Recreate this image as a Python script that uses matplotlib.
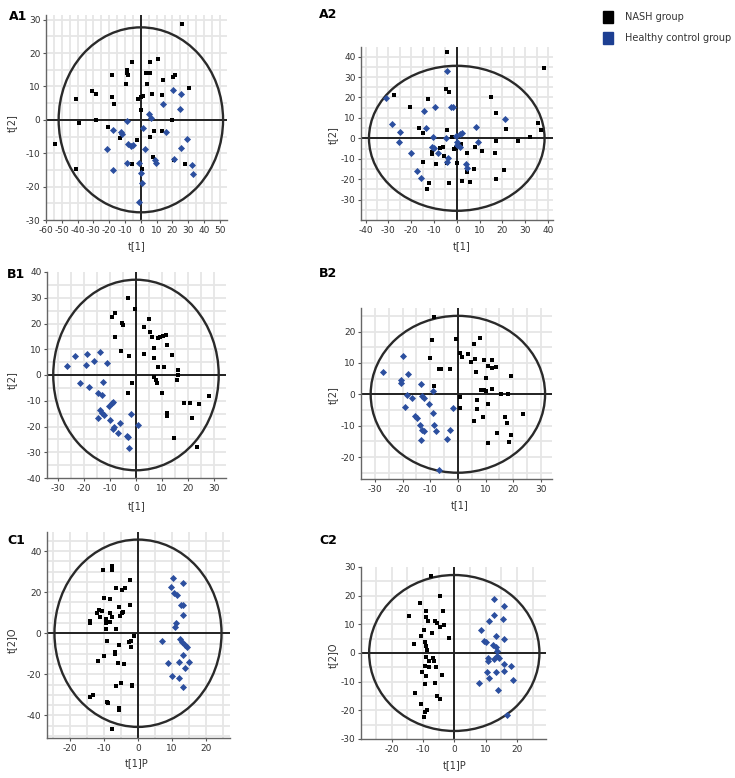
"""Score plots (PCA / PLS-DA / OPLS-DA) for NASH vs healthy control, six panels."""
import matplotlib
matplotlib.use("Agg")
import matplotlib.pyplot as plt
from matplotlib.patches import Ellipse, Rectangle

plt.rcParams['font.family'] = ['DejaVu Sans']
plt.rcParams['axes.unicode_minus'] = False

W, H, DPI = 735, 778, 100

NASH_COLOR = 'black'
HC_COLOR = '#2c4f9f'

# ---- data ----
a1_nash_x = [26.2, -54.1, -41.1, -41, -39, -31, -28.3, -28.5, -20.5, -18.4, -18.4, -17, -13.2, -9, -9,
             -9.6, -5.9, -8.4, -2.7, -1.7, 0, 1.3, 0.4, -5.9, 1, 3.6, 3.1, 5.7, 5.5, 5.5, 7.1, 8.4,
             10.9, 13.8, 13.4, 13.2, 7.8, 20.3, 21.4, 19.7, 21, 27.7, 30.4]
a1_nash_y = [28.6, -7.2, -14.8, 6.3, -0.9, 8.6, 7.8, 0, -2, 13.4, 6.8, 4.8, -5.4, 15, 14,
             10.8, 17.2, 13.4, -6, 6.2, 6.8, 7.1, 3, -13.3, -14.8, 10.8, 14, 14, 17.2, -5.2, 7.8, -3.4,
             18.2, 11.8, 7.3, -3.4, -11.2, 12.9, 13.4, 0, -12, -13.3, 9.6]
a1_hc_x = [-9, -21.6, -17.4, -12.6, -11.7, -17.4, -8.4, -6.3, -4.8, -9, 0.4, 0.8, -1.3, 1.5, 2.9,
           5.2, 6.7, 14, 8.8, 9.9, 16.1, 20.3, 21, 25.6, 24.9, 25.6, 29.1, 32.5, 32.9, -1]
a1_hc_y = [-0.2, -8.7, -3, -3.7, -4.2, -15, -7.2, -7.7, -7.4, -12.8, -16, -19, -24.5, -2.4, -8.7,
           1.6, 0.6, 4.6, -12, -13, -3.7, 9, -11.7, 7.6, 3.3, -8.5, -5.8, -13.5, -16.3, -13]

a2_nash_x = [-4.1, 38.1, -4.7, -3.4, -27.5, -12.7, -20.5, 15.1, 17.3, -16.4, -15, -4.4, -2.2, -0.3,
             -1, -7.3, -10.7, -10.7, -5.6, -4.4, -15, -9.1, 0.3, 1.9, 4.4, 4.4, 7.6, 7.8, 11.1, 16.6,
             17, 21.5, 20.5, 17.1, 26.8, 31.9, 35.6, 36.9, -3.2, 2.3, 5.9, -12, -13.2, -5.9]
a2_nash_y = [42.3, 34.6, 23.9, 22.6, 21.1, 19.2, 15.1, 20.2, 12.5, 4.9, 2.4, 4.1, 0.8, -4.9,
             -5.2, -4.6, -6.5, -7.6, -8.9, -12.2, -11.7, -12.5, -12.2, -2.8, -7.3, -16.7, -15.1, -4.1,
             -6.3, -7.3, -1.1, 4.4, -15.4, -19.8, -1.3, 0.8, 7.6, 4.1, -22, -20.7, -21.3, -22, -24.7, -4.1]
a2_hc_x = [-4.4, -31.2, -28.6, -24.9, -25.2, -14.2, -9.5, -2.6, -1.5, -13.6, -10.3, -11, -10, -8.1,
           -20.1, -17.6, -15.7, -3.7, -4.4, -4.7, -0.3, 1.2, 2.2, 0.3, 1.2, 4.1, 4.4, 8.5, 9.5, 21, 0.3]
a2_hc_y = [33, 19.8, 7, 2.9, -1.6, 13.3, 15.4, 15.4, 15.4, 4.9, 0.5, -4.1, -4.9, -7,
           -7, -15.9, -19.5, -9.8, -11.7, 0, 1.1, 2, 2.8, -1.6, -4.1, -12.7, -14.3, 5.7, -1.6, 9.3, -3.3]

b1_nash_x = [-3.1, -0.3, -9.2, -7.9, -7.9, -5.4, -5.1, -5.6, -2.8, -1.5, -3.1, 2.9, 3.2, 5.1, 5.2,
             6.1, 6.8, 6.8, 8.3, 9.3, 10.2, 11.5, 11.9, 8.4, 10.6, 6.8, 7.8, 8, 14, 16.3, 16.3, 15.7,
             10, 11.9, 11.9, 18.6, 20.8, 24.4, 28.1, 21.7, 14.7, 23.4]
b1_nash_y = [29.8, 25.6, 22.4, 23.9, 14.6, 20.1, 19.4, 9.4, 7.4, -3, -6.9, 8.2, 18.8, 21.6, 16.8,
             14.9, 10.4, 6.5, 14.2, 14.9, 15.1, 15.5, 11.7, 3.2, 3.2, -0.6, -1.9, -3, 7.8, 1.9, 0, -1.9,
             -6.9, -14.9, -15.9, -11, -11, -11.3, -8, -16.6, -24.6, -27.8]
b1_hc_x = [-26.4, -23.6, -19, -19.2, -16, -13.7, -11.1, -21.7, -18.1, -12.6, -14.6, -13, -13.9, -13,
           -12.4, -14.6, -10.5, -9.2, -8.9, -9.8, -8.6, -8.8, -6, -6.9, -3.4, -3.1, -2.8, -1.8, 0.6]
b1_hc_y = [3.5, 7.4, 8, 3.9, 5.6, 9.1, 4.5, -3, -4.5, -2.6, -7.1, -7.8, -13.6, -14.6,
           -15.5, -16.6, -12, -11, -10.4, -17.5, -20.1, -21.1, -18.8, -22.7, -23.6, -24.2, -28.5, -15.3, -19.4]

b2_nash_x = [-8.8, -9.3, -0.6, 8, 5.8, -9.9, -6.8, -6.2, -2.7, -8.6, 0.6, 1.5, 3.7, 4.6, 6.2, 9.3,
             12.2, 11, 13.8, 12.3, 6.7, 10.2, 19.1, 8.3, 9.5, 10.1, 12.2, 15.4, 18.1, 0.6, 0.6, 6.8,
             7, 11, 5.8, 8.9, 17.2, 17.9, 23.5, 14.2, 19.1, 18.3, 11]
b2_nash_y = [24.5, 17.4, 17.7, 18, 15.9, 11.5, 7.9, 8.2, 8.2, 2.5, 13.2, 11.9, 12.8, 10.2, 11.3, 10.8,
             11, 8.9, 8.7, 8.4, 7.1, 5.2, 5.9, 1.3, 1.3, 1, 1.7, 0.2, 0.2, -0.8, -4.4, -1.9,
             -4.7, -3.1, -8.4, -7.3, -7.3, -9.1, -6.3, -12.2, -13.1, -15.2, -15.5]
b2_hc_x = [-26.9, -19.9, -17.9, -20.7, -20.4, -13.3, -18.3, -16.4, -13.1, -12.3, -10.6, -9, -19.1,
           -15.6, -14.9, -13.7, -12.8, -12.3, -13.5, -9, -8.6, -7.8, -2.8, -3.8, -1.6, -6.9]
b2_hc_y = [7, 12.1, 6.6, 4.4, 3.6, 3.4, -0.1, -1.2, -0.4, -1.2, -3, 1.2, -4.1,
           -6.8, -7.5, -9.9, -11.3, -11.8, -14.6, -5.9, -9.7, -11.6, -11.3, -14.2, -4.4, -24.2]

c1_nash_x = [-10.3, -7.8, -7.8, -2.5, -6.4, -4.7, -3.9, -8.1, -10.1, -11.6, -10.6, -12.1, -11.1, -14,
             -14, -9.3, -8.1, -7.8, -8.1, -5.7, -5.4, -4.7, -4.4, -2.5, -9.3, -9.5, -6.5, -9.1, -1.3,
             -2, -2.7, -2, -6.7, -6.7, -5.7, -9.9, -11.8, -5.9, -4, -6.4, -5, -1.8, -1.8, -13.2, -14,
             -9.1, -5.7, -5.7, -7.6, -8.9]
c1_nash_y = [30.7, 32.6, 31, 25.8, 21.8, 21, 21.8, 16.5, 17.4, 11.3, 10.8, 9.7, 8.1, 6.1,
             5.2, 6.8, 9.7, 8.1, 5.7, 12.9, 8.4, 9.7, 10.5, 13.7, 5.2, 1.9, 1.9, -4, -1.3,
             -4, -4.5, -6.5, -8.9, -10, -5.7, -11.3, -13.7, -14.5, -14.9, -25.8, -24.2, -25, -25.8, -30.2, -31,
             -33.4, -36.3, -37.2, -46.4, -34.2]
c1_hc_x = [10.2, 13.2, 9.7, 10.7, 11.5, 12.7, 13.4, 13.2, 11.3, 11, 7.1, 12.5, 12.9, 13.7, 14.4,
           13.2, 12, 14.9, 13.7, 10, 12, 13.4, 8.7]
c1_hc_y = [26.7, 24.7, 22.6, 19.4, 18.6, 13.7, 13.7, 8.9, 5.2, 2.9, -4, -2.9, -4.5, -5.7, -6.5,
           -10.5, -14.1, -14.1, -17, -20.7, -21.8, -26.2, -14.5]

c2_nash_x = [-7.4, -4.7, -10.8, -8.9, -3.7, -14.4, -8.9, -6.1, -5.5, -4.7, -3.2, -8.4, -9.7, -7.1,
             -10.5, -1.6, -12.8, -9.5, -8.9, -8.6, -8.9, -8.2, -6.8, -6.6, -5.8, -9.5, -8.2, -10.2,
             -3.9, -8.9, -9.5, -6.1, -12.4, -5.5, -4.7, -10.7, -8.6, -9.2, -9.8]
c2_nash_y = [27, 20, 17.6, 14.5, 14.8, 13, 12.5, 11.3, 10.6, 9, 9.8, 11, 8.1, 6.9,
             6, 5.2, 3.2, 3.7, 2.5, 1.2, -1.4, -2.7, -1.7, -2.9, -4.9, -4.4, -4.9, -6.7,
             -7.8, -8.1, -10.8, -10.6, -13.9, -15, -16.2, -17.9, -20, -20.6, -22.2]
c2_hc_x = [12.8, 15.8, 12.8, 11.1, 15.5, 8.6, 13.2, 15.8, 9.5, 10.2, 12.4, 13.2, 13.5, 13.7, 12.8,
           10.7, 10.7, 14.2, 15.8, 18.1, 15.8, 13.4, 10.5, 11.1, 18.7, 7.9, 14, 16.8]
c2_hc_y = [18.9, 16.4, 13.1, 11.3, 11.8, 8.1, 6, 4.9, 4.3, 3.8, 2.7, 2.1, 0.6, -0.9, -2,
           -1.7, -2.7, -1.7, -3.8, -4.6, -6.4, -6.7, -6.7, -8.7, -9.5, -10.4, -13, -21.6]

# Hotelling T2 ellipse half-axes per panel
ellipse_a = [52, 38.5, 31.8, 31.5, 24.6, 27.2]
ellipse_b = [27.7, 35.5, 37, 25, 45.6, 27.2]

panel_names = ['A1', 'A2', 'B1', 'B2', 'C1', 'C2']
x_labels = ['t[1]', 't[1]', 't[1]', 't[1]', 't[1]P', 't[1]P']
y_labels = ['t[2]', 't[2]', 't[2]', 't[2]', 't[2]O', 't[2]O']
legend_labels = ['NASH group', 'Healthy control group']

# ---- layout (pixel boxes: left, top, right, bottom) ----
boxes = [(46, 15, 227, 220), (361, 47, 553, 220),
         (47, 272, 226, 478), (361, 308, 552, 479),
         (47, 532, 230, 738), (361, 567, 546, 739)]
xlims = [(-60, 54.5), (-42, 42.2), (-34.2, 34.6), (-35, 34), (-26.8, 27.1), (-29.8, 29.3)]
ylims = [(-30, 31.4), (-40, 44.7), (-40, 40), (-27, 27.5), (-51, 49.3), (-30, 30)]
xticks = [range(-60, 51, 10), range(-40, 41, 10), range(-30, 31, 10), range(-30, 31, 10),
          range(-20, 21, 10), range(-20, 21, 10)]
yticks = [range(-30, 31, 10), range(-30, 41, 10), range(-40, 41, 10), range(-20, 21, 10),
          range(-40, 41, 20), range(-30, 31, 10)]
label_pos = [(9, 16), (319, 15), (7, 275), (319, 273), (7, 540), (319, 540)]
xlabel_pos = [(137, 246), (462, 246), (137, 506), (460, 505), (137, 763), (455, 765)]
ylabel_pos = [(12, 123), (333, 135), (12, 380), (333, 395), (12, 640), (333, 655)]

series = [(a1_nash_x, a1_nash_y, a1_hc_x, a1_hc_y),
          (a2_nash_x, a2_nash_y, a2_hc_x, a2_hc_y),
          (b1_nash_x, b1_nash_y, b1_hc_x, b1_hc_y),
          (b2_nash_x, b2_nash_y, b2_hc_x, b2_hc_y),
          (c1_nash_x, c1_nash_y, c1_hc_x, c1_hc_y),
          (c2_nash_x, c2_nash_y, c2_hc_x, c2_hc_y)]


def px_axes(fig, box):
    l, t, r, b = box
    return fig.add_axes([l / W, 1 - b / H, (r - l) / W, (b - t) / H])


fig = plt.figure(figsize=(W / DPI, H / DPI), dpi=DPI)

for i, (nx, ny, hx, hy) in enumerate(series):
    ax = px_axes(fig, boxes[i])
    ax.set_xlim(*xlims[i])
    ax.set_ylim(*ylims[i])

    # light SIMCA-style grid every 5 units
    x0, x1 = xlims[i]
    y0, y1 = ylims[i]
    gx = [v for v in range(-100, 101, 5) if x0 < v < x1]
    gy = [v for v in range(-100, 101, 5) if y0 < v < y1]
    for v in gx:
        ax.axvline(v, color='#e6e6e6', lw=1.3, zorder=0)
    for v in gy:
        ax.axhline(v, color='#e6e6e6', lw=1.3, zorder=0)

    ax.axhline(0, color='#222222', lw=1.4, zorder=1)
    ax.axvline(0, color='#222222', lw=1.4, zorder=1)
    ax.add_patch(Ellipse((0, 0), 2 * ellipse_a[i], 2 * ellipse_b[i], fill=False,
                         edgecolor='#2a2a2a', lw=1.7, zorder=2))

    ax.scatter(nx, ny, marker='s', s=11, color=NASH_COLOR, linewidths=0, zorder=3)
    ax.scatter(hx, hy, marker='D', s=13, color=HC_COLOR, linewidths=0, zorder=3)

    ax.set_xticks(list(xticks[i]))
    ax.set_yticks(list(yticks[i]))
    ax.tick_params(labelsize=6.5, length=2.5, width=0.8, colors='#555555',
                   labelcolor='#333333', pad=1.5)
    for side in ('top', 'right'):
        ax.spines[side].set_visible(False)
    for side in ('left', 'bottom'):
        ax.spines[side].set_color('#666666')
        ax.spines[side].set_linewidth(1.0)
    ax.set_facecolor('white')

    fig.text(label_pos[i][0] / W, 1 - label_pos[i][1] / H, panel_names[i],
             fontsize=9, fontweight='bold', ha='left', va='center')
    fig.text(xlabel_pos[i][0] / W, 1 - xlabel_pos[i][1] / H, x_labels[i],
             fontsize=7, color='#333333', ha='center', va='center')
    fig.text(ylabel_pos[i][0] / W, 1 - ylabel_pos[i][1] / H, y_labels[i],
             fontsize=7, color='#333333', ha='center', va='center', rotation=90)

# legend, top right
leg_colors = [NASH_COLOR, '#1d3f92']
leg_y = [17, 38]
for lab, col, yy in zip(legend_labels, leg_colors, leg_y):
    fig.patches.append(Rectangle(((603) / W, 1 - (yy + 6) / H), 10 / W, 12 / H,
                                 transform=fig.transFigure, color=col, figure=fig))
    fig.text(625 / W, 1 - yy / H, lab, fontsize=7, color='#333333', ha='left', va='center')

fig.savefig('out.png', dpi=DPI)
plt.close(fig)
